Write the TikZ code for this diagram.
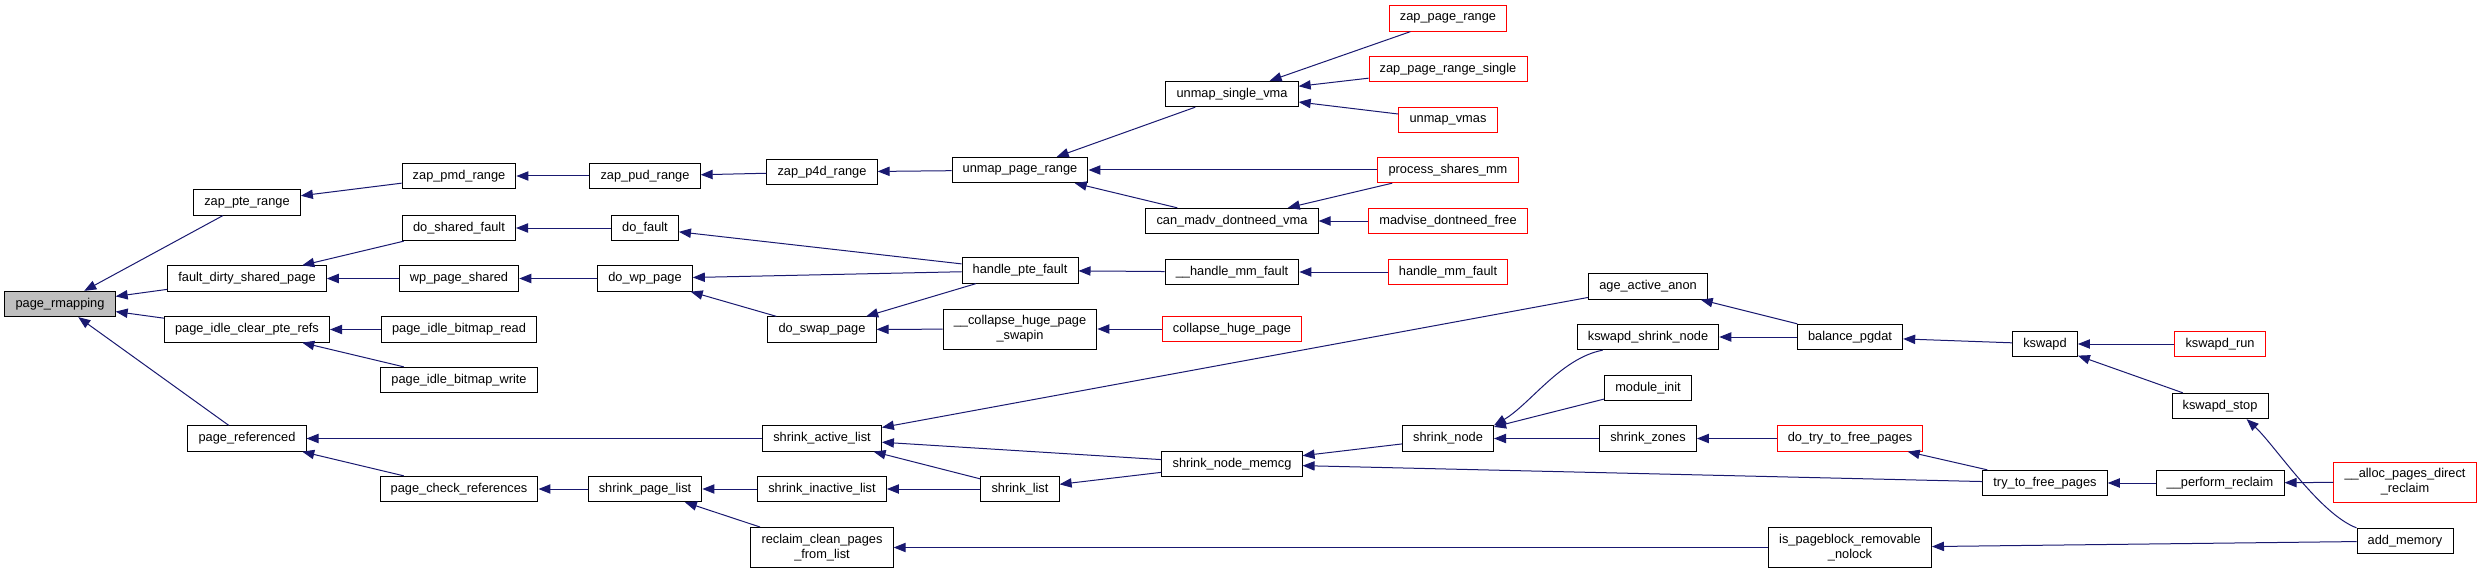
\documentclass[tikz,border=0pt]{standalone}
\usepackage{fontspec}
\setmainfont{Liberation Sans}
\usetikzlibrary{arrows.meta}
\definecolor{edgeblue}{HTML}{191970}
\definecolor{rootgray}{HTML}{BFBFBF}

\begin{document}
\begin{tikzpicture}[x=0.75pt, y=-0.75pt,
  every node/.style={font=\fontsize{9.6}{11.3}\selectfont},
  fn/.style={draw=black, line width=0.75pt, inner xsep=8pt, inner ysep=2pt, minimum height=19pt},
  fnred/.style={fn, draw=red},
  fnroot/.style={fn, fill=rootgray},
  twoline/.style={align=center, minimum height=30pt},
  callarrow/.style={{Triangle[length=9pt,width=7pt]}-, draw=edgeblue, line width=0.75pt}]
  \useasboundingbox (0,0) rectangle (2483,574);
  % column 0 and 1
  \node[fnroot] (rmap) at (60,304) {page\_rmapping};
  \node[fn] (zappte) at (247,202.5) {zap\_pte\_range};
  \node[fn] (fdsp) at (247,278.5) {fault\_dirty\_shared\_page};
  \node[fn] (idleclr) at (247,329.5) {page\_idle\_clear\_pte\_refs};
  \node[fn] (pref) at (247,438.5) {page\_referenced};
  % column 2
  \node[fn] (zappmd) at (459,176) {zap\_pmd\_range};
  \node[fn] (doshared) at (459,228) {do\_shared\_fault};
  \node[fn] (wpshared) at (459,278.5) {wp\_page\_shared};
  \node[fn] (idleread) at (459,329.5) {page\_idle\_bitmap\_read};
  \node[fn] (idlewrite) at (459,380) {page\_idle\_bitmap\_write};
  \node[fn] (pcheck) at (459,489) {page\_check\_references};
  % column 3
  \node[fn] (zappud) at (645,176) {zap\_pud\_range};
  \node[fn] (dofault) at (645,228) {do\_fault};
  \node[fn] (dowp) at (645,278.5) {do\_wp\_page};
  \node[fn] (spl) at (645,489) {shrink\_page\_list};
  % column 4
  \node[fn] (zapp4d) at (822,172) {zap\_p4d\_range};
  \node[fn] (doswap) at (822,329.5) {do\_swap\_page};
  \node[fn] (sal) at (822,438.5) {shrink\_active\_list};
  \node[fn] (sil) at (822,489) {shrink\_inactive\_list};
  \node[fn, twoline] (rcp) at (822,547.5) {reclaim\_clean\_pages\\\_from\_list};
  % column 5
  \node[fn] (upr) at (1020,170) {unmap\_page\_range};
  \node[fn] (hpf) at (1020,270.5) {handle\_pte\_fault};
  \node[fn, twoline] (chps) at (1020,329) {\_\_collapse\_huge\_page\\\_swapin};
  \node[fn] (slist) at (1020,489) {shrink\_list};
  % column 6
  \node[fn] (usv) at (1232,94) {unmap\_single\_vma};
  \node[fn] (cmdv) at (1232,221) {can\_madv\_dontneed\_vma};
  \node[fn] (hmf) at (1232,272) {\_\_handle\_mm\_fault};
  \node[fnred] (chp) at (1232,329) {collapse\_huge\_page};
  \node[fn] (snm) at (1232,464) {shrink\_node\_memcg};
  % column 7
  \node[fnred] (zpr) at (1448,18.5) {zap\_page\_range};
  \node[fnred] (zprs) at (1448,69) {zap\_page\_range\_single};
  \node[fnred] (uvmas) at (1448,120) {unmap\_vmas};
  \node[fnred] (psm) at (1448,170) {process\_shares\_mm};
  \node[fnred] (mdf) at (1448,221) {madvise\_dontneed\_free};
  \node[fnred] (hmfr) at (1448,272) {handle\_mm\_fault};
  \node[fn] (snode) at (1448,438.5) {shrink\_node};
  % column 8
  \node[fn] (aaa) at (1648,286.5) {age\_active\_anon};
  \node[fn] (ksn) at (1648,337) {kswapd\_shrink\_node};
  \node[fn] (minit) at (1648,388) {module\_init};
  \node[fn] (szones) at (1648,438.5) {shrink\_zones};
  % column 9
  \node[fn] (bpg) at (1850,337) {balance\_pgdat};
  \node[fnred] (dttfp) at (1850,438.5) {do\_try\_to\_free\_pages};
  \node[fn, twoline] (ipr) at (1850,547.5) {is\_pageblock\_removable\\\_nolock};
  % column 10 to 12
  \node[fn] (kswapd) at (2045,344) {kswapd};
  \node[fn] (ttfp) at (2045,483) {try\_to\_free\_pages};
  \node[fnred] (ksrun) at (2220,344) {kswapd\_run};
  \node[fn] (kstop) at (2220,406) {kswapd\_stop};
  \node[fn] (preclaim) at (2220,483) {\_\_perform\_reclaim};
  \node[fnred, twoline] (apdr) at (2405,482) {\_\_alloc\_pages\_direct\\\_reclaim};
  \node[fn] (addmem) at (2405,541) {add\_memory};

  % calls
  \draw[callarrow] (rmap) -- (zappte);
  \draw[callarrow] (rmap) -- (fdsp);
  \draw[callarrow] (rmap) -- (idleclr);
  \draw[callarrow] (rmap) -- (pref);
  \draw[callarrow] (zappte) -- (zappmd);
  \draw[callarrow] (zappmd) -- (zappud);
  \draw[callarrow] (zappud) -- (zapp4d);
  \draw[callarrow] (zapp4d) -- (upr);
  \draw[callarrow] (upr) -- (usv);
  \draw[callarrow] (upr) -- (psm);
  \draw[callarrow] (upr) -- (cmdv);
  \draw[callarrow] (usv) -- (zpr);
  \draw[callarrow] (usv) -- (zprs);
  \draw[callarrow] (usv) -- (uvmas);
  \draw[callarrow] (cmdv) -- (psm);
  \draw[callarrow] (cmdv) -- (mdf);
  \draw[callarrow] (fdsp) -- (doshared);
  \draw[callarrow] (fdsp) -- (wpshared);
  \draw[callarrow] (doshared) -- (dofault);
  \draw[callarrow] (wpshared) -- (dowp);
  \draw[callarrow] (dofault) -- (hpf);
  \draw[callarrow] (dowp) -- (hpf);
  \draw[callarrow] (dowp) -- (doswap);
  \draw[callarrow] (doswap) -- (hpf);
  \draw[callarrow] (doswap) -- (chps);
  \draw[callarrow] (hpf) -- (hmf);
  \draw[callarrow] (hmf) -- (hmfr);
  \draw[callarrow] (chps) -- (chp);
  \draw[callarrow] (idleclr) -- (idleread);
  \draw[callarrow] (idleclr) -- (idlewrite);
  \draw[callarrow] (pref) -- (sal);
  \draw[callarrow] (pref) -- (pcheck);
  \draw[callarrow] (pcheck) -- (spl);
  \draw[callarrow] (spl) -- (sil);
  \draw[callarrow] (spl) -- (rcp);
  \draw[callarrow] (sil) -- (slist);
  \draw[callarrow] (sal) -- (aaa);
  \draw[callarrow] (sal) -- (snm);
  \draw[callarrow] (sal) -- (slist);
  \draw[callarrow] (slist) -- (snm);
  \draw[callarrow] (snm) -- (snode);
  \draw[callarrow] (snm) -- (ttfp);
  \draw[callarrow] (snode.north east) .. controls +(36,-21) and +(-42,8) .. ([xshift=19.5pt]ksn.south west);
  \draw[callarrow] (snode) -- (minit);
  \draw[callarrow] (snode) -- (szones);
  \draw[callarrow] (aaa) -- (bpg);
  \draw[callarrow] (ksn) -- (bpg);
  \draw[callarrow] (bpg) -- (kswapd);
  \draw[callarrow] (kswapd) -- (ksrun);
  \draw[callarrow] (kswapd) -- (kstop);
  \draw[callarrow] ([xshift=20pt]kstop.south) .. controls +(28,26) and +(-37,-14) .. (addmem.north west);
  \draw[callarrow] (szones) -- (dttfp);
  \draw[callarrow] (dttfp) -- (ttfp);
  \draw[callarrow] (ttfp) -- (preclaim);
  \draw[callarrow] (preclaim) -- (apdr);
  \draw[callarrow] (rcp) -- (ipr);
  \draw[callarrow] (ipr) -- (addmem);
\end{tikzpicture}
\end{document}
